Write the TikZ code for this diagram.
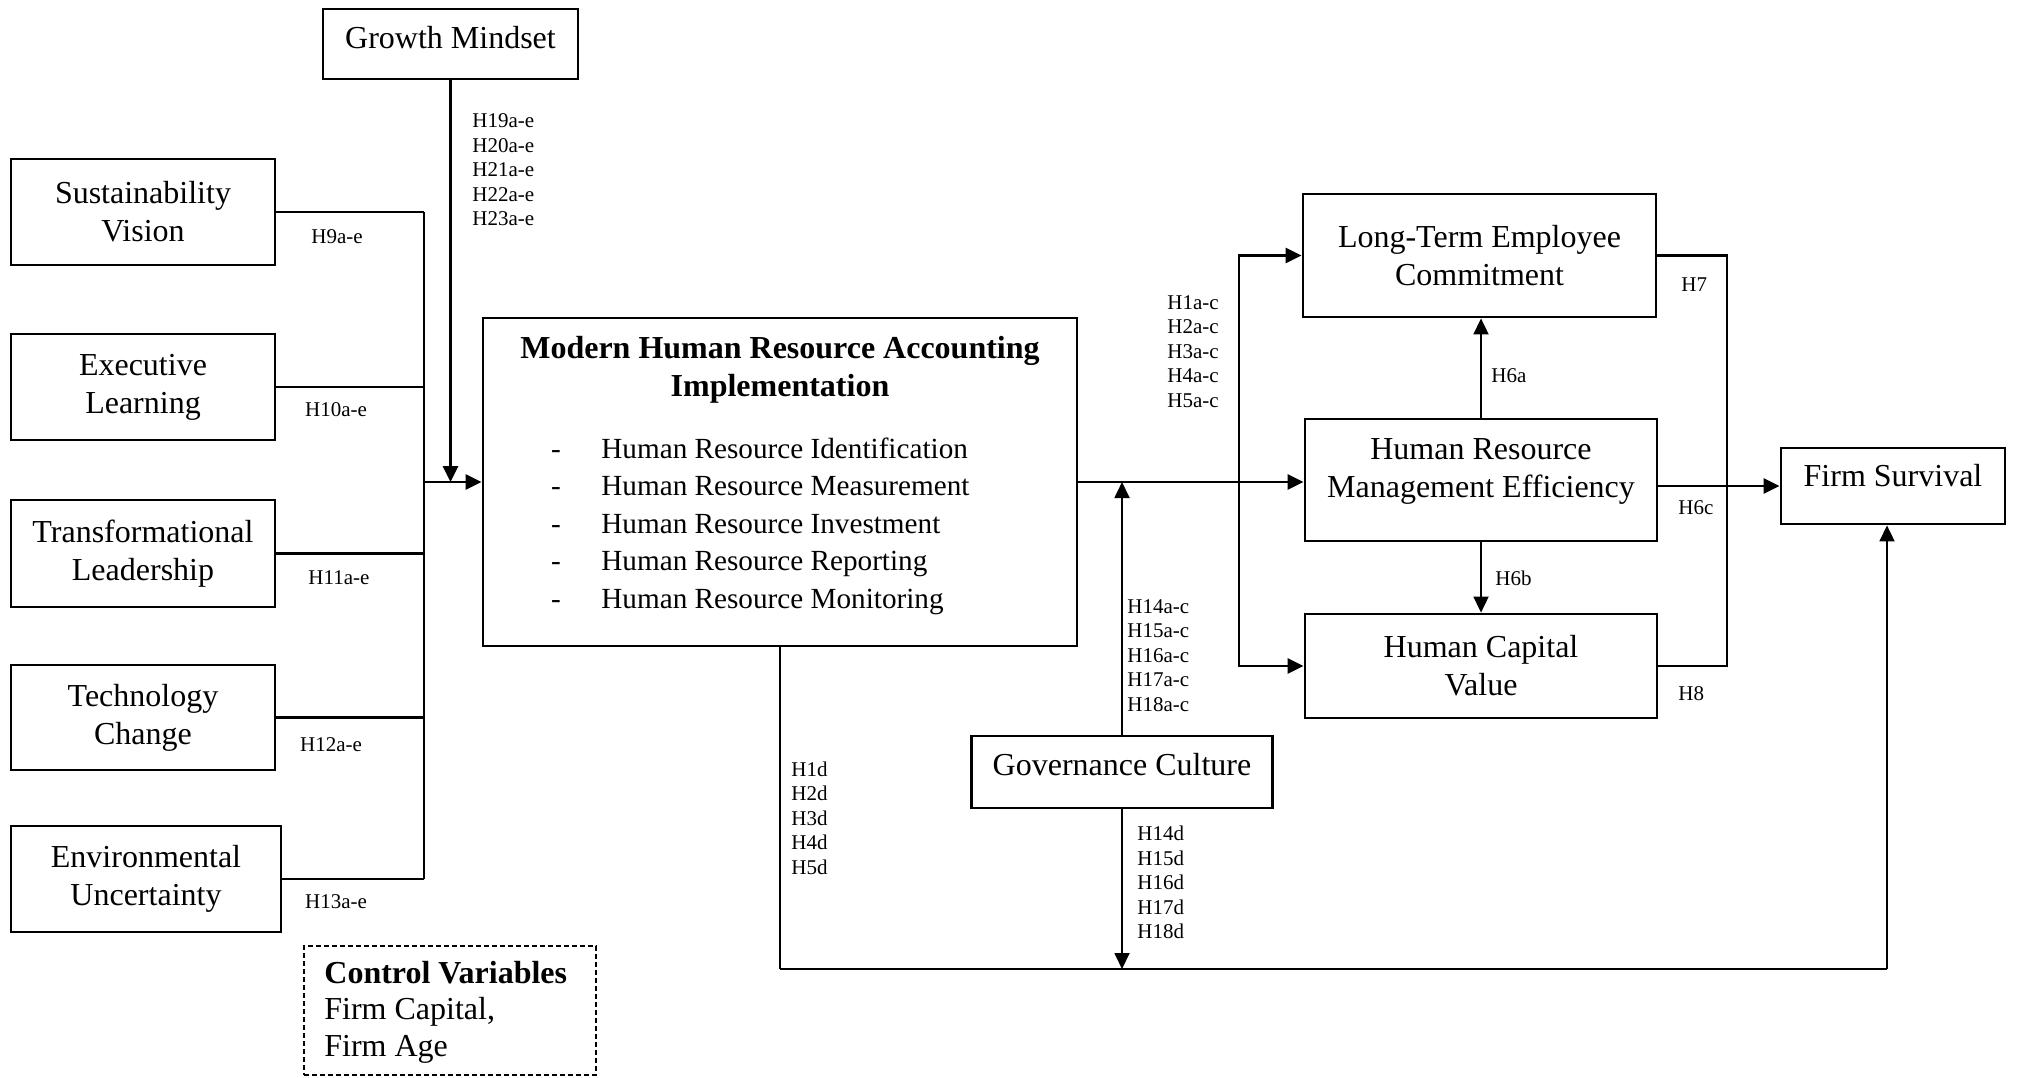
\documentclass[tikz,border=0pt]{standalone}
\usepackage{fontspec}
\setmainfont{Liberation Serif}
\usetikzlibrary{arrows.meta,calc}
\newcommand\boxfont{\fontsize{16pt}{19pt}\selectfont}
\newcommand\itemfont{\fontsize{14.6pt}{18pt}\selectfont}
\newcommand\hypfont{\fontsize{10.5pt}{12.25pt}\selectfont}
\begin{document}
\begin{tikzpicture}[x=0.5pt,y=-0.5pt,
  box/.style={draw, line width=1.4pt, inner sep=0pt, font=\boxfont, align=center},
  txt/.style={inner sep=0pt, font=\boxfont, align=center},
  wire/.style={line width=1.4pt},
  fine/.style={line width=0.9pt},
  tip/.style={-{Triangle[length=8pt,width=7.5pt]}},
  hyp/.style={inner sep=0pt, font=\hypfont, align=left, anchor=west},
]
\useasboundingbox (0,0) rectangle (2017,1077);

% ---------- boxes ----------
\node[box, minimum width=127.5pt, minimum height=35pt] (gm) at (450.5,44) {};
\node[txt] (gmt) at (450.5,38) {Growth Mindset};

\node[box, minimum width=132pt, minimum height=53pt] (sv) at (143,212) {Sustainability\\Vision};
\node[box, minimum width=132pt, minimum height=53pt] (el) at (143,387) {Executive\\Learning};
\node[box, minimum width=132pt, minimum height=53.5pt] (tl) at (143,553.5) {Transformational\\Leadership};
\node[box, minimum width=132pt, minimum height=52.5pt] (tc) at (143,717.5) {Technology\\Change};
\node[box, minimum width=135pt, minimum height=53pt] (eu) at (146,879) {Environmental\\Uncertainty};

\node[box, minimum width=297pt, minimum height=164pt] (mh) at (780,482) {};
\node[txt, font=\boxfont\bfseries, align=center] (mht) at (780,370)
  {\fontsize{16pt}{19.5pt}\selectfont Modern Human Resource Accounting\\Implementation};
\foreach \k/\t/\y in {1/Identification/448, 2/Measurement/485, 3/Investment/523, 4/Reporting/560, 5/Monitoring/598}{
  \node[inner sep=0pt, font=\itemfont, anchor=base] (dash\k) at (556,\y+10) {-};
  \node[inner sep=0pt, font=\itemfont, anchor=base west] (item\k) at (601,\y+10) {Human Resource \t};
}

\node[box, minimum width=176.5pt, minimum height=61.5pt] (lt) at (1479.5,255.5) {Long-Term Employee\\Commitment};
\node[box, minimum width=176pt, minimum height=61pt] (hr) at (1481,480) {};
\node[txt] (hrt) at (1481,471) {Human Resource\\Management Efficiency};
\node[box, minimum width=176pt, minimum height=52pt] (hc) at (1481,666) {Human Capital\\Value};
\node[box, minimum width=112pt, minimum height=38pt] (fs) at (1893,486) {};
\node[txt] (fst) at (1893,476) {Firm Survival};
\node[box, minimum width=150.5pt, minimum height=36pt] (gc) at (1122,772) {};
\node[txt] (gct) at (1122,765) {Governance Culture};

\node[draw, dash pattern=on 2.5pt off 1.5pt, line width=0.6pt, minimum width=146pt,
      minimum height=64.5pt, inner sep=0pt] (cv) at (450,1010.5) {};
\node[txt, anchor=west, align=left, font=\fontsize{16pt}{18.25pt}\selectfont] (cvt) at (324,1012)
  {\textbf{Control Variables}\\Firm Capital,\\Firm Age};

% ---------- left side: antecedents into the bus ----------
\coordinate (bus) at (424,0);
\foreach \b in {sv,el,tl,tc,eu}{
  \draw[wire] (\b.east) -- (\b.east -| bus);
}
\draw[wire] (sv.east -| bus) -- (eu.east -| bus);
\draw[wire,tip] (bus |- mh.west) -- (mh.west);
\draw[wire,tip] (gm.south) -- (gm.south |- mh.west);

% ---------- outcomes ----------
\coordinate (split) at (1239,0);
\draw[wire,tip] (mh.east) -- (hr.west |- mh.east);
\draw[wire,tip] (split |- mh.east) |- (lt.west);
\draw[wire,tip] (split |- mh.east) |- (hc.west);

\draw[fine,tip] (hr.north) -- (hr.north |- lt.south);
\draw[fine,tip] (hr.south) -- (hr.south |- hc.north);

\coordinate (rbus) at (1727,0);
\draw[wire] (lt.east) -| (rbus |- hc.east) -- (hc.east);
\draw[wire,tip] (hr.east |- fs.west) -- (fs.west);

% ---------- governance moderation ----------
\coordinate (base) at (0,969);
\coordinate (fsin) at (1887,969);
\draw[fine,tip] (gc.north) -- (gc.north |- mh.east);
\draw[fine,tip] (gc.south) -- (gc.south |- base);

% ---------- direct path to firm survival ----------
\draw[fine] (mh.south) -- (mh.south |- base);
\draw[wire] (mh.south |- base) -- (fsin);
\draw[fine,tip] (fsin) -- (fsin |- fs.south);

% ---------- hypothesis labels ----------
\node[hyp] (h19) at (472,170) {H19a-e\\H20a-e\\H21a-e\\H22a-e\\H23a-e};
\node[hyp, anchor=center] (h9) at (337,237) {H9a-e};
\node[hyp, anchor=center] (h10) at (336,410) {H10a-e};
\node[hyp, anchor=center] (h11) at (339,578) {H11a-e};
\node[hyp, anchor=center] (h12) at (331,745) {H12a-e};
\node[hyp, anchor=center] (h13) at (336,902) {H13a-e};

\node[hyp] (h1) at (1167,351.5) {H1a-c\\H2a-c\\H3a-c\\H4a-c\\H5a-c};
\node[hyp] (h14) at (1127,655.5) {H14a-c\\H15a-c\\H16a-c\\H17a-c\\H18a-c};
\node[hyp] (h14d) at (1137,882.5) {H14d\\H15d\\H16d\\H17d\\H18d};
\node[hyp] (h1d) at (791,818) {H1d\\H2d\\H3d\\H4d\\H5d};

\node[hyp] (h6a) at (1491,376) {H6a};
\node[hyp] (h6b) at (1495,578) {H6b};
\node[hyp] (h7) at (1681,285) {H7};
\node[hyp] (h6c) at (1678,508) {H6c};
\node[hyp] (h8) at (1678,694) {H8};
\end{tikzpicture}
\end{document}
